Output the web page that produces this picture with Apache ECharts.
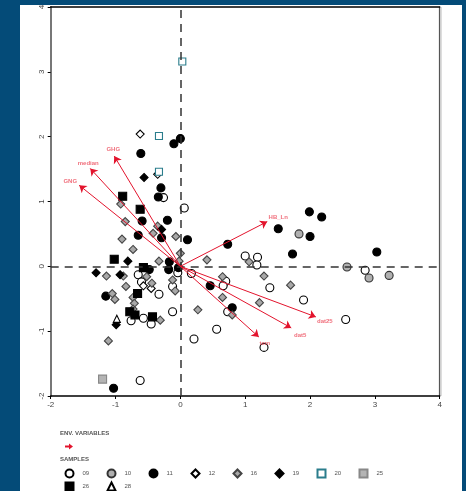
<!DOCTYPE html>
<html><head><meta charset="utf-8">
<script src="https://cdn.jsdelivr.net/npm/echarts@6/dist/echarts.min.js"></script>
<style>html,body{margin:0;padding:0;background:#044b78;overflow:hidden}#c{width:466px;height:491px;}</style>
</head><body><div id="c"></div>
<script>
// ---- data ----
const axisMin = -2, axisMax = 4, axisStep = 1;
const s09 = [[-0.26,1.06],[0.06,0.90],[0.17,-0.11],[1.00,0.16],[1.19,0.14],[1.18,0.02],[0.70,-0.23],[0.66,-0.30],[1.38,-0.33],[1.90,-0.52],[-0.12,-0.70],[0.73,-0.70],[-0.04,-0.10],[2.85,-0.06],[2.55,-0.82],[-0.62,-1.76],[0.21,-1.12],[0.56,-0.97],[1.29,-1.25],[-0.76,-0.84],[-0.57,-0.80],[-0.45,-0.89],[-0.65,-0.13],[-0.60,-0.24],[-0.33,-0.43],[-0.12,-0.31]];
const s10 = [[1.83,0.50],[2.57,-0.01],[2.91,-0.18],[3.22,-0.14]];
const s11 = [[-0.61,1.74],[-0.10,1.89],[0.00,1.97],[-0.30,1.21],[-0.34,1.07],[-0.20,0.71],[-0.59,0.70],[-0.65,0.48],[-0.29,0.44],[0.11,0.41],[0.73,0.34],[1.51,0.58],[1.99,0.84],[2.18,0.76],[2.00,0.46],[3.03,0.22],[1.73,0.19],[0.46,-0.30],[0.80,-0.64],[-0.48,-0.05],[-0.17,0.07],[-0.18,-0.05],[-0.03,-0.02],[-1.15,-0.46],[-1.03,-1.88]];
const s12 = [[-0.62,2.04],[-0.35,1.42],[-0.57,-0.30],[-0.45,-0.34]];
const s16 = [[-0.92,0.96],[-0.85,0.69],[-0.90,0.42],[-0.73,0.26],[-1.14,-0.15],[-0.88,-0.15],[-0.84,-0.31],[-1.05,-0.42],[-1.01,-0.51],[-0.73,-0.48],[-0.71,-0.57],[-0.73,-0.66],[-0.35,0.62],[-0.33,0.08],[-0.42,0.51],[-0.07,0.46],[0.00,0.20],[-0.02,0.08],[-0.52,-0.16],[-0.44,-0.26],[-0.12,-0.21],[-0.08,-0.38],[-0.31,-0.83],[0.27,-0.67],[-1.11,-1.15],[0.41,0.10],[0.65,-0.16],[1.06,0.07],[1.29,-0.15],[1.70,-0.29],[0.65,-0.48],[1.22,-0.56],[0.80,-0.75]];
const s19 = [[-0.56,1.37],[-0.29,0.57],[-0.81,0.08],[-1.30,-0.10],[-0.93,-0.13],[-0.99,-0.90]];
const s20 = [[0.03,3.16],[-0.33,2.01],[-0.33,1.46]];
const s25 = [[-1.20,-1.74]];
const s26 = [[-0.89,1.08],[-0.62,0.88],[-1.02,0.11],[-0.57,-0.02],[-0.66,-0.42],[-0.78,-0.70],[-0.70,-0.75],[-0.43,-0.78]];
const s28 = [[-0.98,-0.81]];
const envNames = ['GHG','median','GNG','HB_Ln','dat25','dat5','tem'];
const envX = [-1.02,-1.39,-1.56,1.34,2.09,1.71,1.21];
const envY = [1.70,1.51,1.25,0.69,-0.78,-0.95,-1.09];

// ---- styles ----
const labelOffsets = {GHG:[-1,-7],median:[-2,-5],GNG:[-9,-4],HB_Ln:[11,-4],dat25:[9,4],dat5:[9,7],tem:[6,6]};
const red = '#e3142d';
const sampleStyles = [
  {name:'09', data:s09, symbol:'circle', size:8, color:'#fff', border:'#000'},
  {name:'10', data:s10, symbol:'circle', size:8, color:'#b0b0b0', border:'#333'},
  {name:'11', data:s11, symbol:'circle', size:8, color:'#000', border:'#000'},
  {name:'12', data:s12, symbol:'diamond', size:8, color:'#fff', border:'#000'},
  {name:'16', data:s16, symbol:'diamond', size:8, color:'#a8a8a8', border:'#444'},
  {name:'19', data:s19, symbol:'diamond', size:8, color:'#000', border:'#000'},
  {name:'20', data:s20, symbol:'rect', size:7, color:'#fff', border:'#2a7d8c'},
  {name:'25', data:s25, symbol:'rect', size:8, color:'#b4b4b4', border:'#888'},
  {name:'26', data:s26, symbol:'rect', size:8, color:'#000', border:'#000'},
  {name:'28', data:s28, symbol:'triangle', size:7, color:'#fff', border:'#000'}
];
const legendPos = [[64.5,468.5],[106.5,468.5],[148.5,468.5],[190.5,468.5],[232.5,468.5],[274.5,468.5],[316.5,468.5],[358.5,468.5],[64.5,481.5],[106.5,481.5]];

const series = sampleStyles.map(s => ({
  name: s.name, type: 'scatter', data: s.data, symbol: s.symbol, symbolSize: s.size,
  itemStyle: {color: s.color, borderColor: s.border, borderWidth: 1.1, opacity: 1},
  z: 3
}));
series.push({
  name: 'axes0', type: 'line', data: [], silent: true,
  markLine: {
    silent: true, symbol: 'none', label: {show: false},
    lineStyle: {color: '#333', type: [8, 6], width: 1.5},
    data: [{xAxis: 0}, {yAxis: 0}]
  }, z: 1
});
series.push({
  name: 'env', type: 'lines', coordinateSystem: 'cartesian2d', silent: true,
  symbol: ['none', 'arrow'], symbolSize: 7,
  lineStyle: {color: red, width: 1, opacity: 1},
  data: envNames.map((n, i) => ({coords: [[0, 0], [envX[i], envY[i]]]})),
  z: 5
});
series.push({
  name: 'envLabels', type: 'scatter', symbolSize: 0, silent: true,
  data: envNames.map((n, i) => ({
    value: [envX[i], envY[i]], name: n,
    label: {show: true, formatter: n, position: 'inside', offset: labelOffsets[n],
      color: '#ec4a5a', fontSize: 6, fontFamily: 'Liberation Sans', fontWeight: 'bold'}
  })),
  z: 6
});

const legends = sampleStyles.map((s, i) => ({
  data: [s.name], left: legendPos[i][0], top: legendPos[i][1],
  itemWidth: 8, itemHeight: 8, padding: 0, selectedMode: false,
  textStyle: {fontSize: 6, color: '#555', fontFamily: 'Liberation Sans', padding: [0,0,0,4]}
}));

const chart = echarts.init(document.getElementById('c'), null, {renderer: 'canvas'});
chart.setOption({
  animation: false,
  backgroundColor: 'transparent',
  grid: {left: 50.7, top: 7, width: 389, height: 389},
  xAxis: [{
    type: 'value', min: axisMin, max: axisMax, interval: axisStep,
    axisLine: {onZero: false, lineStyle: {color: '#000', width: 1.5}},
    axisTick: {show: true, length: 3, lineStyle: {color: '#000'}},
    axisLabel: {fontSize: 8, color: '#444', margin: 5, fontFamily: 'Liberation Sans'},
    splitLine: {show: false}
  }, {
    type: 'value', position: 'top', min: axisMin, max: axisMax,
    axisLine: {onZero: false, lineStyle: {color: '#000', width: 1.5}},
    axisTick: {show: false}, axisLabel: {show: false}, splitLine: {show: false}
  }],
  yAxis: [{
    type: 'value', min: axisMin, max: axisMax, interval: axisStep,
    axisLine: {onZero: false, lineStyle: {color: '#777', width: 2}},
    axisTick: {show: true, length: 3, inside: false, lineStyle: {color: '#000'}},
    axisLabel: {fontSize: 8, color: '#444', margin: 5, rotate: 90, fontFamily: 'Liberation Sans'},
    splitLine: {show: false}
  }, {
    type: 'value', position: 'right', min: axisMin, max: axisMax,
    axisLine: {onZero: false, lineStyle: {color: '#555', width: 1.2}},
    axisTick: {show: false}, axisLabel: {show: false}, splitLine: {show: false}
  }],
  legend: legends,
  graphic: [
    {type: 'rect', shape: {x: 20, y: 5, width: 442, height: 486}, style: {fill: '#fff'}, z: -100, silent: true},
    {type: 'rect', shape: {x: 0, y: 0, width: 466, height: 5}, style: {fill: '#044b78'}, z: 100, zlevel: 1, silent: true},
    {type: 'rect', shape: {x: 440.5, y: 7, width: 1, height: 389}, style: {fill: '#bbb'}, silent: true},
    {type: 'text', left: 60, top: 430, style: {text: 'ENV. VARIABLES', fontSize: 6, fill: '#555', fontFamily: 'Liberation Sans', fontWeight: 'bold'}},
    {type: 'text', left: 60, top: 456, style: {text: 'SAMPLES', fontSize: 6, fill: '#555', fontFamily: 'Liberation Sans', fontWeight: 'bold'}},
    {type: 'polygon', shape: {points: [[65,445.5],[69,445.5],[69,443.5],[73,446.5],[69,449.5],[69,447.5],[65,447.5]]}, style: {fill: red}},
  ],
  series: series
});
</script></body></html>
